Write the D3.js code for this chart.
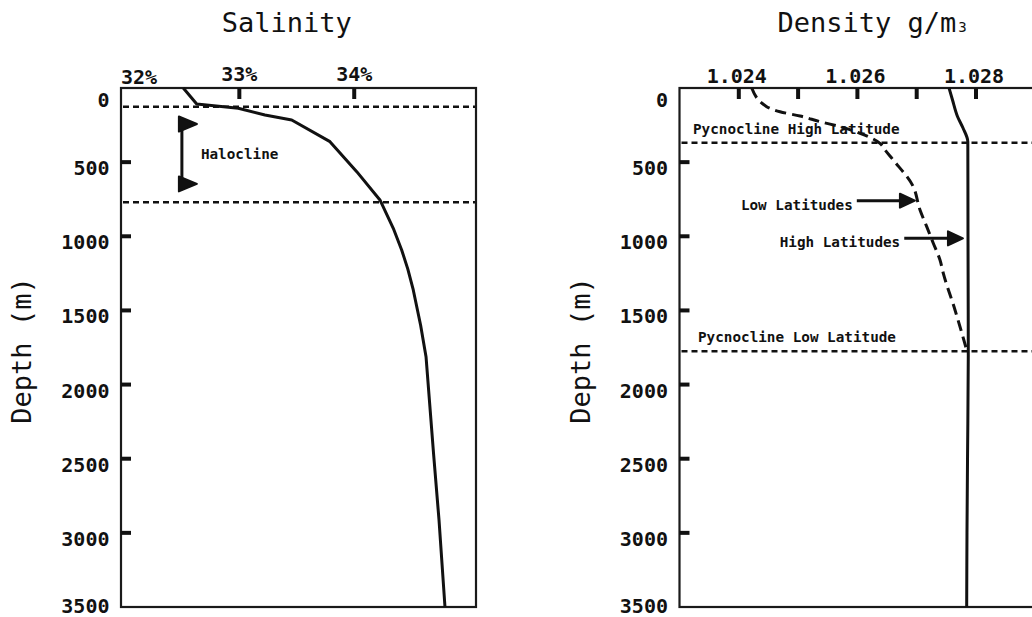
<!DOCTYPE html>
<html><head><meta charset="utf-8">
<script src="https://cdn.jsdelivr.net/npm/d3@7"></script>
<style>
body{margin:0;background:#fff}
svg{display:block}
text{font-family:"DejaVu Sans Mono",monospace;fill:#111}
</style>
</head><body>
<svg id="chart" width="1032" height="617"></svg>
<script>
// ---------- data ----------
const depthTicks = [0, 500, 1000, 1500, 2000, 2500, 3000, 3500];
const salinityTicks = [32, 33, 34];
const salinityTickLabels = ["32%", "33%", "34%"];
const densityTicks = [1.024, 1.025, 1.026, 1.027, 1.028];
const densityTickLabels = ["1.024", "", "1.026", "", "1.028"];

const salinityDepth = [0, 108, 137, 182, 216, 362, 564, 755, 946, 1092, 1220, 1362, 1600, 1812, 2461, 2913, 3500];
const salinityValue = [32.512, 32.629, 32.991, 33.223, 33.456, 33.789, 34.022, 34.224, 34.340, 34.413, 34.466, 34.514, 34.578, 34.625, 34.690, 34.738, 34.790];

const haloclineDepths = [126, 771];
const haloclineArrowDepths = [243, 647];
const haloclineArrowSalinity = 32.5;
const haloclineLabel = "Halocline";

const highLatDepth = [0, 81, 192, 270, 362, 1000, 1800, 2500, 3000, 3500];
const highLatDensity = [1.027545, 1.027604, 1.027688, 1.027781, 1.027862, 1.027865, 1.027870, 1.027857, 1.027848, 1.027843];

const lowLatDepth = [0, 126, 160, 189, 227, 261, 305, 373, 418, 486, 655, 823, 935, 1047, 1160, 1250, 1497, 1767];
const lowLatDensity = [1.024218, 1.024470, 1.024695, 1.025032, 1.025369, 1.025707, 1.026044, 1.026381, 1.026466, 1.026605, 1.026929, 1.027056, 1.027169, 1.027280, 1.027393, 1.027449, 1.027646, 1.027843];

const pycnoclineDepths = [370, 1775];
const pycnoclineLabels = ["Pycnocline High Latitude", "Pycnocline Low Latitude"];

const arrowLabels = ["Low Latitudes", "High Latitudes"];
const arrowDepths = [760, 1014];
const arrowFrom = [1.02599, 1.02679];
const arrowTo = [1.02697, 1.02778];

// ---------- layout ----------
const svg = d3.select("#chart");
svg.append("rect").attr("width", 1032).attr("height", 617).attr("fill", "#fff");

const yTop = 88, yBot = 607;
const y = d3.scaleLinear().domain([0, 3500]).range([yTop, yBot]);
const xS = d3.scaleLinear().domain([31.97, 35.06]).range([121, 476]);
const xD = d3.scaleLinear().domain([1.023, 1.030]).range([679.5, 1094.6]);

const INK = "#111";
const ANN = 14.3;

function drawFrame(x, ylabelX) {
  const [x0, x1] = x.range();
  const g = svg.append("g");
  g.append("rect").attr("x", x0).attr("y", yTop).attr("width", x1 - x0).attr("height", yBot - yTop)
    .attr("fill", "none").attr("stroke", "#1a1a1a").attr("stroke-width", 2.2);
  g.selectAll(".yt").data(depthTicks.filter(d => d > 0 && d < 3500)).join("line")
    .attr("x1", x0).attr("x2", x0 + 10).attr("y1", d => y(d)).attr("y2", d => y(d))
    .attr("stroke", INK).attr("stroke-width", 4);
  g.selectAll(".yl").data(depthTicks).join("text")
    .attr("x", x0 - 11.5)
    .attr("y", d => y(d) + (d === 0 ? 19 : d === 3500 ? 6 : 13))
    .attr("text-anchor", "end").attr("font-size", 20).attr("font-weight", "bold")
    .text(d => d);
  g.append("text").attr("transform", `translate(${ylabelX},${(yTop + yBot) / 2 + 3}) rotate(-90)`)
    .attr("text-anchor", "middle").attr("font-size", 27).text("Depth (m)");
  return g;
}

// ---------- left panel: salinity ----------
const gL = drawFrame(xS, 30.5);
gL.selectAll(".xt").data(salinityTicks.filter(d => d > 32)).join("line")
  .attr("x1", d => xS(d)).attr("x2", d => xS(d)).attr("y1", yTop).attr("y2", yTop + 11)
  .attr("stroke", INK).attr("stroke-width", 4);
gL.selectAll(".xl").data(salinityTicks).join("text")
  .attr("x", (d, i) => i === 0 ? xS.range()[0] : xS(d))
  .attr("y", (d, i) => i === 0 ? 83.5 : 80.5)
  .attr("text-anchor", (d, i) => i === 0 ? "start" : "middle")
  .attr("font-size", 20).attr("font-weight", "bold")
  .text((d, i) => salinityTickLabels[i]);
svg.append("text").attr("x", 286.7).attr("y", 32).attr("text-anchor", "middle").attr("font-size", 27).text("Salinity");

gL.selectAll(".hl").data(haloclineDepths).join("line")
  .attr("x1", xS.range()[0] + 2).attr("x2", xS.range()[1] - 1)
  .attr("y1", d => y(d)).attr("y2", d => y(d))
  .attr("stroke", INK).attr("stroke-width", 2.5).attr("stroke-dasharray", "6,4");

gL.append("path")
  .attr("d", d3.line().x(d => xS(d[1])).y(d => y(d[0]))(salinityDepth.map((d, i) => [d, salinityValue[i]])))
  .attr("fill", "none").attr("stroke", INK).attr("stroke-width", 3).attr("stroke-linejoin", "round");

{
  const ax = xS(haloclineArrowSalinity);
  const [ya, yb] = haloclineArrowDepths.map(y);
  gL.append("line").attr("x1", ax).attr("x2", ax).attr("y1", ya).attr("y2", yb)
    .attr("stroke", INK).attr("stroke-width", 3);
  [ya, yb].forEach(yy => {
    gL.append("path")
      .attr("d", `M${ax - 3},${yy - 7.5}L${ax + 15},${yy}L${ax - 3},${yy + 7.5}Z`)
      .attr("fill", INK).attr("stroke", INK).attr("stroke-width", 2).attr("stroke-linejoin", "round");
  });
  gL.append("text").attr("x", ax + 19).attr("y", (ya + yb) / 2 + 5)
    .attr("font-size", ANN).attr("font-weight", "bold").text(haloclineLabel);
}

// ---------- right panel: density ----------
const gR = drawFrame(xD, 589.5);
gR.selectAll(".xt").data(densityTicks).join("line")
  .attr("x1", d => xD(d)).attr("x2", d => xD(d)).attr("y1", yTop).attr("y2", yTop + 11)
  .attr("stroke", INK).attr("stroke-width", 4);
gR.selectAll(".xl").data(densityTicks).join("text")
  .attr("x", d => xD(d) - 2).attr("y", 82.5)
  .attr("text-anchor", "middle").attr("font-size", 20).attr("font-weight", "bold")
  .text((d, i) => densityTickLabels[i]);
{
  const t = svg.append("text").attr("x", 777.5).attr("y", 32).attr("font-size", 27);
  t.append("tspan").text("Density g/m");
  t.append("tspan").attr("font-size", 14).attr("dx", 2).text("3");
}

gR.selectAll(".pl").data(pycnoclineDepths).join("line")
  .attr("x1", xD.range()[0] + 2).attr("x2", 1032)
  .attr("y1", d => y(d)).attr("y2", d => y(d))
  .attr("stroke", INK).attr("stroke-width", 2.5).attr("stroke-dasharray", "6,4");
gR.selectAll(".ptxt").data(pycnoclineDepths).join("text")
  .attr("x", (d, i) => i === 0 ? 693 : 698).attr("y", d => y(d) - 9)
  .attr("font-size", ANN).attr("font-weight", "bold").text((d, i) => pycnoclineLabels[i]);

const lineD = d3.line().curve(d3.curveMonotoneY).x(d => xD(d[1])).y(d => y(d[0]));
gR.append("path")
  .attr("d", lineD(highLatDepth.map((d, i) => [d, highLatDensity[i]])))
  .attr("fill", "none").attr("stroke", INK).attr("stroke-width", 3);
gR.append("path")
  .attr("d", lineD(lowLatDepth.map((d, i) => [d, lowLatDensity[i]])))
  .attr("fill", "none").attr("stroke", INK).attr("stroke-width", 3).attr("stroke-dasharray", "11,6");

arrowLabels.forEach((lab, i) => {
  const yy = y(arrowDepths[i]);
  const x1 = xD(arrowFrom[i]), x2 = xD(arrowTo[i]);
  gR.append("line").attr("x1", x1).attr("x2", x2 - 14).attr("y1", yy).attr("y2", yy)
    .attr("stroke", INK).attr("stroke-width", 3);
  gR.append("path")
    .attr("d", `M${x2 - 15},${yy - 7}L${x2},${yy}L${x2 - 15},${yy + 7}Z`)
    .attr("fill", INK).attr("stroke", INK).attr("stroke-width", 2).attr("stroke-linejoin", "round");
  gR.append("text").attr("x", x1 - 4).attr("y", yy + 9).attr("text-anchor", "end")
    .attr("font-size", ANN).attr("font-weight", "bold").text(lab);
});
</script>
</body></html>
